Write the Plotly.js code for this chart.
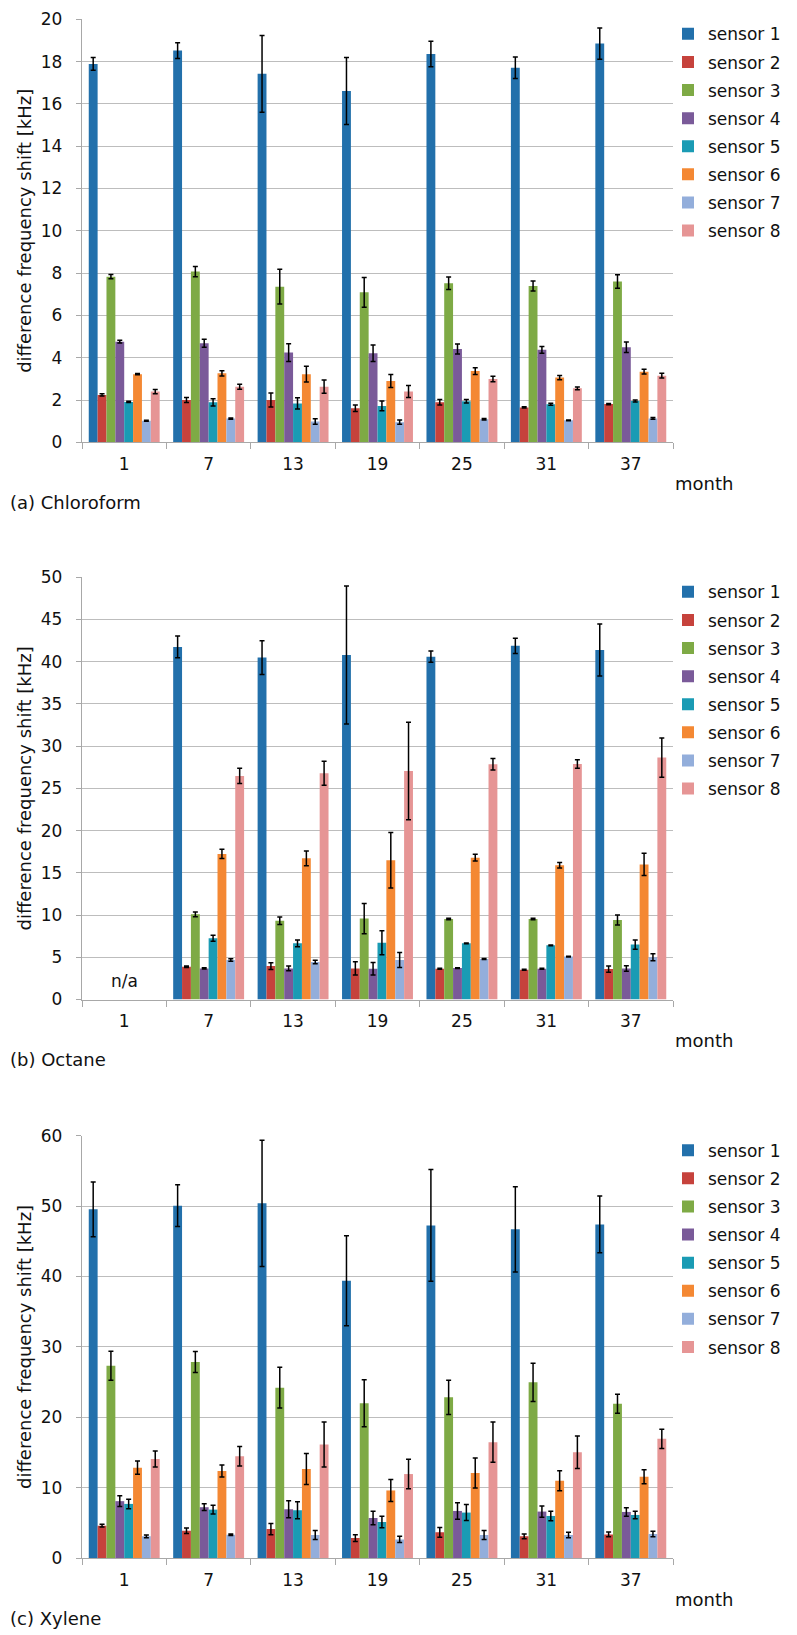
<!DOCTYPE html>
<html>
<head>
<meta charset="utf-8">
<script src="https://cdn.plot.ly/plotly-3.0.1.min.js"></script>
<style>
  html, body { margin: 0; padding: 0; background: #fff; }
  #chart { width: 797px; height: 1635px; }
</style>
</head>
<body>
<div id="chart"></div>
<script>
// ---------- categories ----------
const months = ['1', '7', '13', '19', '25', '31', '37'];
const sensorNames = ['sensor 1', 'sensor 2', 'sensor 3', 'sensor 4', 'sensor 5', 'sensor 6', 'sensor 7', 'sensor 8'];
const panelCaptions = ['(a) Chloroform', '(b) Octane', '(c) Xylene'];
const yAxisTitle = 'difference frequency shift [kHz]';
const xAxisTitle = 'month';

// ---------- (a) Chloroform ----------
const chloroS1 = [17.89, 18.52, 17.42, 16.61, 18.36, 17.71, 18.85];
const chloroS2 = [2.24, 2.00, 2.00, 1.61, 1.89, 1.65, 1.81];
const chloroS3 = [7.83, 8.07, 7.36, 7.09, 7.52, 7.39, 7.60];
const chloroS4 = [4.76, 4.68, 4.24, 4.21, 4.41, 4.37, 4.49];
const chloroS5 = [1.91, 1.89, 1.84, 1.72, 1.94, 1.80, 1.95];
const chloroS6 = [3.22, 3.26, 3.22, 2.90, 3.37, 3.06, 3.34];
const chloroS7 = [1.02, 1.12, 0.98, 0.95, 1.09, 1.04, 1.13];
const chloroS8 = [2.40, 2.63, 2.63, 2.40, 2.99, 2.55, 3.15];
const chloroE1 = [0.30, 0.37, 1.81, 1.58, 0.60, 0.51, 0.74];
const chloroE2 = [0.05, 0.12, 0.33, 0.15, 0.13, 0.03, 0.03];
const chloroE3 = [0.10, 0.24, 0.82, 0.70, 0.30, 0.24, 0.32];
const chloroE4 = [0.06, 0.19, 0.42, 0.39, 0.24, 0.16, 0.25];
const chloroE5 = [0.03, 0.17, 0.27, 0.23, 0.08, 0.05, 0.05];
const chloroE6 = [0.03, 0.12, 0.37, 0.31, 0.16, 0.10, 0.11];
const chloroE7 = [0.02, 0.03, 0.13, 0.10, 0.04, 0.02, 0.04];
const chloroE8 = [0.10, 0.12, 0.31, 0.28, 0.13, 0.06, 0.11];

// ---------- (b) Octane (month 1: n/a) ----------
const octS1 = [null, 41.76, 40.50, 40.81, 40.60, 41.88, 41.40];
const octS2 = [null, 3.88, 3.96, 3.68, 3.64, 3.52, 3.60];
const octS3 = [null, 10.09, 9.33, 9.58, 9.53, 9.53, 9.42];
const octS4 = [null, 3.68, 3.68, 3.64, 3.72, 3.64, 3.68];
const octS5 = [null, 7.25, 6.65, 6.73, 6.65, 6.41, 6.50];
const octS6 = [null, 17.24, 16.72, 16.49, 16.80, 15.90, 16.00];
const octS7 = [null, 4.68, 4.44, 4.68, 4.80, 5.08, 5.00];
const octS8 = [null, 26.48, 26.80, 27.07, 27.86, 27.90, 28.65];
const octE1 = [null, 1.30, 2.00, 8.17, 0.67, 0.91, 3.08];
const octE2 = [null, 0.10, 0.40, 0.78, 0.05, 0.05, 0.36];
const octE3 = [null, 0.28, 0.45, 1.78, 0.10, 0.10, 0.60];
const octE4 = [null, 0.08, 0.28, 0.74, 0.05, 0.05, 0.32];
const octE5 = [null, 0.35, 0.40, 1.42, 0.05, 0.05, 0.55];
const octE6 = [null, 0.55, 0.87, 3.28, 0.40, 0.32, 1.32];
const octE7 = [null, 0.15, 0.20, 0.88, 0.05, 0.05, 0.42];
const octE8 = [null, 0.90, 1.42, 5.77, 0.67, 0.50, 2.33];
const octNaLabel = 'n/a';
const octNaMonth = '1';
const octNaLevel = 2.2;

// ---------- (c) Xylene ----------
const xylS1 = [49.54, 50.06, 50.39, 39.41, 47.26, 46.70, 47.40];
const xylS2 = [4.62, 3.90, 4.14, 2.86, 3.67, 3.10, 3.38];
const xylS3 = [27.34, 27.86, 24.22, 21.99, 22.84, 24.97, 21.94];
const xylS4 = [8.10, 7.24, 6.95, 5.71, 6.71, 6.62, 6.57];
const xylS5 = [7.71, 6.90, 6.81, 5.14, 6.48, 6.00, 6.14];
const xylS6 = [12.86, 12.38, 12.67, 9.62, 12.10, 11.00, 11.57];
const xylS7 = [3.10, 3.33, 3.29, 2.67, 3.29, 3.29, 3.43];
const xylS8 = [14.10, 14.48, 16.14, 11.95, 16.48, 15.05, 16.95];
const xylE1 = [3.90, 2.97, 8.95, 6.39, 7.93, 6.06, 4.02];
const xylE2 = [0.20, 0.40, 0.80, 0.48, 0.70, 0.35, 0.35];
const xylE3 = [2.06, 1.50, 2.89, 3.34, 2.44, 2.72, 1.35];
const xylE4 = [0.76, 0.48, 1.20, 0.95, 1.17, 0.80, 0.60];
const xylE5 = [0.67, 0.62, 1.20, 0.80, 1.14, 0.67, 0.52];
const xylE6 = [0.95, 0.86, 2.20, 1.57, 2.14, 1.43, 1.00];
const xylE7 = [0.20, 0.10, 0.65, 0.45, 0.65, 0.38, 0.38];
const xylE8 = [1.14, 1.38, 3.20, 2.10, 2.86, 2.30, 1.38];

// ---------- styling ----------
const colors = ['#2270AB', '#C6423C', '#7EAA45', '#7A5A99', '#1A9BB4', '#F48833', '#93AEDB', '#E69595'];
const FONT = 'DejaVu Sans, Liberation Sans, Arial, sans-serif';
const W = 797, H = 1635;
const px = x => x / W;           // layout helper: pixel -> paper x
const py = y => 1 - y / H;       // layout helper: pixel -> paper y

const panels = [
  { vals: [chloroS1, chloroS2, chloroS3, chloroS4, chloroS5, chloroS6, chloroS7, chloroS8],
    errs: [chloroE1, chloroE2, chloroE3, chloroE4, chloroE5, chloroE6, chloroE7, chloroE8],
    top: 19.3, bottom: 442.3, range: [0, 20], dtick: 2 },
  { vals: [octS1, octS2, octS3, octS4, octS5, octS6, octS7, octS8],
    errs: [octE1, octE2, octE3, octE4, octE5, octE6, octE7, octE8],
    top: 577.3, bottom: 999.5, range: [0, 50], dtick: 5 },
  { vals: [xylS1, xylS2, xylS3, xylS4, xylS5, xylS6, xylS7, xylS8],
    errs: [xylE1, xylE2, xylE3, xylE4, xylE5, xylE6, xylE7, xylE8],
    top: 1135.7, bottom: 1558.2, range: [0, 60], dtick: 10 }
];

const plotLeft = 82, plotRight = 673;
const gridCol = '#BDBDBD', axisCol = '#A8A8A8';

const traces = [];
const layout = {
  width: W, height: H,
  margin: { l: 0, r: 0, t: 0, b: 0 },
  paper_bgcolor: '#fff', plot_bgcolor: '#fff',
  font: { family: FONT, size: 17, color: '#111' },
  barmode: 'group', bargap: 0.16, bargroupgap: 0,
  showlegend: true,
  annotations: []
};

panels.forEach((p, i) => {
  const sfx = i === 0 ? '' : String(i + 1);
  const legName = 'legend' + sfx;
  p.vals.forEach((v, k) => {
    traces.push({
      type: 'bar', x: months, y: v, name: sensorNames[k],
      xaxis: 'x' + sfx, yaxis: 'y' + sfx, legend: legName,
      legendgroup: 'p' + i + 's' + k,
      marker: { color: colors[k], line: { width: 0 } },
      error_y: { type: 'data', array: p.errs[k], visible: true, color: '#000', thickness: 1.5, width: 2.5 },
      hoverinfo: 'x+y+name'
    });
  });
  layout['xaxis' + sfx] = {
    domain: [px(plotLeft), px(plotRight)], anchor: 'y' + sfx,
    type: 'category', categoryorder: 'array', categoryarray: months,
    tickson: 'boundaries', ticks: 'outside', ticklen: 6, tickcolor: axisCol, tickwidth: 1.3,
    showline: true, linecolor: axisCol, linewidth: 1.3, showgrid: false, zeroline: false,
    tickfont: { family: FONT, size: 17, color: '#111' }, ticklabelstandoff: 6,
    fixedrange: true
  };
  layout['yaxis' + sfx] = {
    domain: [py(p.bottom), py(p.top)], anchor: 'x' + sfx,
    range: p.range, dtick: p.dtick, tick0: 0,
    showline: true, linecolor: axisCol, linewidth: 1.3,
    ticks: 'outside', ticklen: 5, tickcolor: axisCol, tickwidth: 1.3,
    showgrid: true, gridcolor: gridCol, gridwidth: 1.3, zeroline: false,
    tickfont: { family: FONT, size: 17, color: '#111' }, ticklabelstandoff: 10,
    title: { text: yAxisTitle, font: { family: FONT, size: 18, color: '#111' }, standoff: 4 },
    fixedrange: true
  };
  layout[legName] = {
    x: px(668), xanchor: 'left', y: py(p.top - 3), yanchor: 'top',
    bgcolor: 'rgba(0,0,0,0)', borderwidth: 0,
    font: { family: FONT, size: 17, color: '#111' },
    tracegroupgap: 3, itemclick: false, itemdoubleclick: false
  };
  layout.annotations.push({
    xref: 'paper', yref: 'paper', x: px(plotRight), y: py(p.bottom + 41),
    xanchor: 'left', yanchor: 'middle', text: xAxisTitle, showarrow: false,
    font: { family: FONT, size: 18, color: '#111' }
  });
  layout.annotations.push({
    xref: 'paper', yref: 'paper', x: px(8), y: py(p.bottom + 60),
    xanchor: 'left', yanchor: 'middle', text: panelCaptions[i], showarrow: false,
    font: { family: FONT, size: 18, color: '#111' }
  });
});

// "n/a" marker placed on the category of the missing month (category index on the axis)
layout.annotations.push({
  xref: 'x2', yref: 'y2', x: months.indexOf(octNaMonth), y: octNaLevel,
  text: octNaLabel, showarrow: false, xanchor: 'center', yanchor: 'middle',
  font: { family: FONT, size: 17, color: '#111' }
});

Plotly.newPlot('chart', traces, layout, { displayModeBar: false });
</script>
</body>
</html>
